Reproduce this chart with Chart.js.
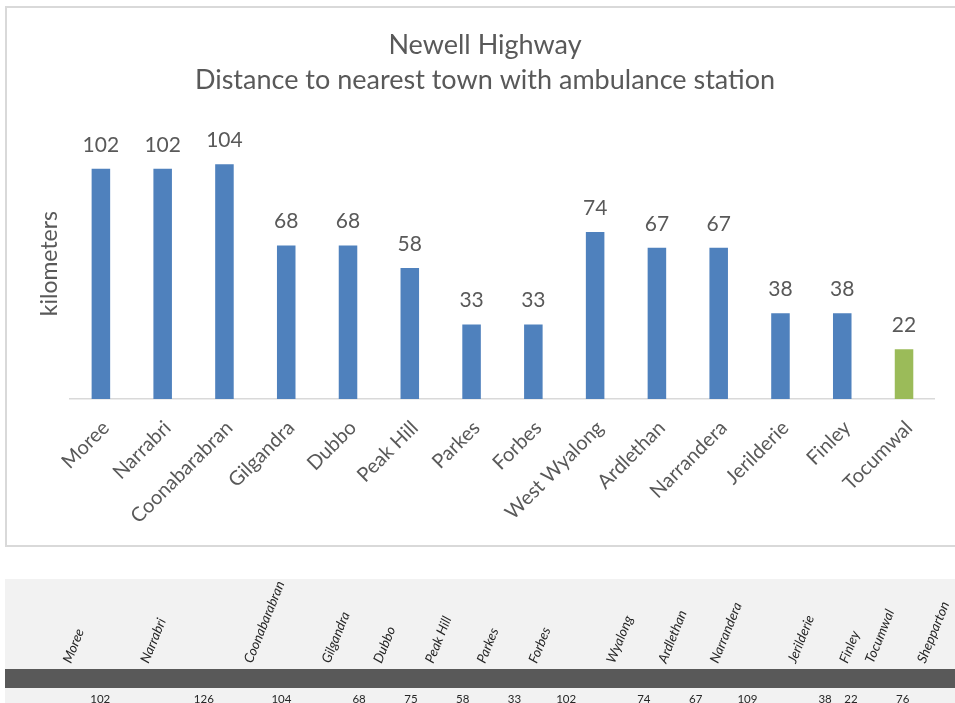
<!DOCTYPE html>
<html>
<head>
<meta charset="utf-8">
<script src="https://cdn.jsdelivr.net/npm/chart.js@4.4.0/dist/chart.umd.min.js"></script>
<style>
    body { margin: 0; background: #fff; width: 955px; height: 703px; overflow: hidden; position: relative; }
    #main-box { position: absolute; left: 5px; top: 6px; width: 951px; height: 537px; border: 2px solid #d9d9d9; }
    #road-box { position: absolute; left: 5px; top: 579px; width: 950px; height: 124px; background: #f2f2f2; }
    canvas { display: block; }
</style>
</head>
<body>
<div id="main-box"><canvas id="ambulanceChart" width="931" height="537"></canvas></div>
<div id="road-box"><canvas id="roadChart" width="950" height="124"></canvas></div>
<script>
// main chart data
const towns = ['Moree', 'Narrabri', 'Coonabarabran', 'Gilgandra', 'Dubbo', 'Peak Hill', 'Parkes',
    'Forbes', 'West Wyalong', 'Ardlethan', 'Narrandera', 'Jerilderie', 'Finley', 'Tocumwal'];
const distances = [102, 102, 104, 68, 68, 58, 33, 33, 74, 67, 67, 38, 38, 22];
const barColors = ['#4f81bd', '#4f81bd', '#4f81bd', '#4f81bd', '#4f81bd', '#4f81bd', '#4f81bd',
    '#4f81bd', '#4f81bd', '#4f81bd', '#4f81bd', '#4f81bd', '#4f81bd', '#9bbb59'];

// road strip data (spreadsheet column each town sits in, km between towns)
const roadTowns = ['Moree', 'Narrabri', 'Coonabarabran', 'Gilgandra', 'Dubbo', 'Peak Hill', 'Parkes',
    'Forbes', 'Wyalong', 'Ardlethan', 'Narrandera', 'Jerilderie', 'Finley', 'Tocumwal', 'Shepparton'];
const roadColumns = [0, 3, 7, 10, 12, 14, 16, 18, 21, 23, 25, 28, 30, 31, 33];
const segmentKm = [102, 126, 104, 68, 75, 58, 33, 102, 74, 67, 109, 38, 22, 76];
const roadMin = -2.43;
const roadMax = 34.27;

const textColor = '#595959';
const mainFont = 'Lato, "Open Sans", sans-serif';

const valueLabels = {
    id: 'valueLabels',
    afterDatasetsDraw(chart) {
        const ctx = chart.ctx;
        const meta = chart.getDatasetMeta(0);
        ctx.save();
        ctx.font = '21px ' + mainFont;
        ctx.fillStyle = textColor;
        ctx.textAlign = 'center';
        ctx.textBaseline = 'middle';
        meta.data.forEach((bar, i) => {
            ctx.fillText(distances[i], bar.x, bar.y - 24);
        });
        ctx.restore();
    }
};

new Chart(document.getElementById('ambulanceChart'), {
    type: 'bar',
    data: {
        labels: towns,
        datasets: [{
            data: distances,
            backgroundColor: barColors,
            barPercentage: 0.3,
            categoryPercentage: 1
        }]
    },
    options: {
        responsive: false,
        animation: false,
        layout: { padding: { left: 25, right: 0, top: 0, bottom: 0 } },
        plugins: {
            legend: { display: false },
            tooltip: { enabled: false },
            title: {
                display: true,
                text: ['Newell Highway', 'Distance to nearest town with ambulance station'],
                color: textColor,
                font: { family: mainFont, size: 27, weight: 'normal', lineHeight: 1.3 },
                padding: { top: 20, bottom: 30 }
            }
        },
        scales: {
            x: {
                grid: { display: false, drawTicks: false },
                border: { display: true, color: '#d9d9d9', width: 1.5 },
                ticks: {
                    color: textColor,
                    font: { family: mainFont, size: 20 },
                    minRotation: 45,
                    maxRotation: 45,
                    padding: 17,
                    labelOffset: 5,
                    autoSkip: false
                },
                afterFit(axis) { axis.height = 146; }
            },
            y: {
                min: 0,
                max: 120,
                grid: { display: false },
                border: { display: false },
                ticks: { display: false },
                title: {
                    display: true,
                    text: 'kilometers',
                    color: textColor,
                    font: { family: mainFont, size: 23 },
                    padding: { top: 4, bottom: 0 }
                },
                afterFit(axis) { axis.width = 38; }
            }
        }
    },
    plugins: [valueLabels]
});

const roadLabels = {
    id: 'roadLabels',
    afterDatasetsDraw(chart) {
        const ctx = chart.ctx;
        const x = chart.scales.x;
        const area = chart.chartArea;
        ctx.save();
        ctx.fillStyle = '#262626';
        ctx.font = 'italic 13.5px ' + mainFont;
        ctx.textAlign = 'left';
        ctx.textBaseline = 'alphabetic';
        roadTowns.forEach((name, i) => {
            ctx.save();
            ctx.translate(x.getPixelForValue(roadColumns[i]) + 3, area.top - 5);
            ctx.rotate(-68 * Math.PI / 180);
            ctx.fillText(name, 0, 0);
            ctx.restore();
        });
        ctx.font = '11.5px ' + mainFont;
        ctx.textAlign = 'center';
        ctx.textBaseline = 'middle';
        segmentKm.forEach((km, i) => {
            const mid = (roadColumns[i] + roadColumns[i + 1]) / 2;
            ctx.fillText(km, x.getPixelForValue(Math.floor(mid) + 0.25), area.bottom + 11);
        });
        ctx.restore();
    }
};

new Chart(document.getElementById('roadChart'), {
    type: 'bar',
    data: {
        labels: ['road'],
        datasets: [{
            data: [[roadMin, roadMax]],
            backgroundColor: '#595959',
            barPercentage: 1,
            categoryPercentage: 1
        }]
    },
    options: {
        indexAxis: 'y',
        responsive: false,
        animation: false,
        layout: { padding: { left: 0, right: 0, top: 90, bottom: 15 } },
        plugins: { legend: { display: false }, tooltip: { enabled: false } },
        scales: {
            x: { type: 'linear', min: roadMin, max: roadMax, display: false },
            y: { display: false }
        }
    },
    plugins: [roadLabels]
});
</script>
</body>
</html>
